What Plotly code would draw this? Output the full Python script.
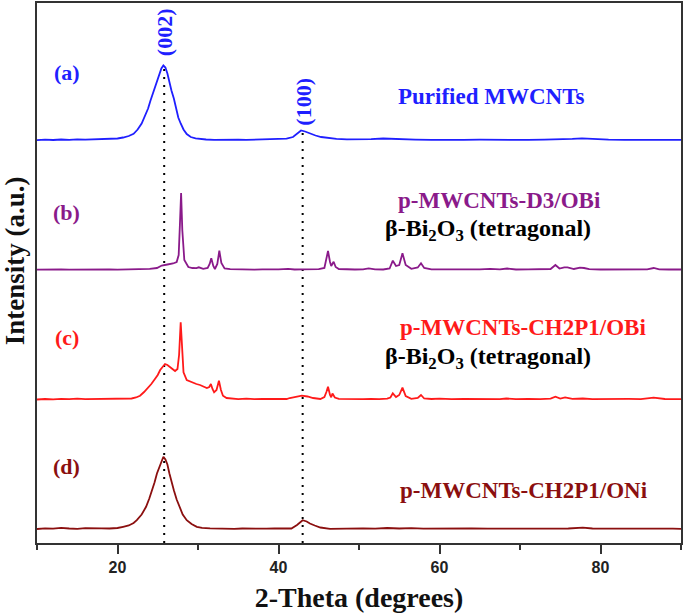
import plotly.graph_objects as go

# ---- data (2-theta in degrees, intensity in a.u. above each baseline) ----
x_a = [10, 11, 12, 13, 14, 15, 16, 17, 18, 19, 20, 20.7, 21.4, 22.0, 22.5, 23.0, 23.4, 23.8, 24.1, 24.45,
       24.8, 25.15, 25.45, 25.7, 25.95, 26.2, 26.45, 26.7, 27.0, 27.3, 27.55, 27.85, 28.2, 28.6, 29.1, 29.7,
       30.3, 31, 32, 33, 34, 35, 36, 37, 38, 39, 40, 41, 41.8, 42.3, 42.8, 43.3, 43.9, 44.6, 45.3, 46.2,
       47.2, 48.5, 50, 51.5, 53, 54, 55.5, 57, 59, 61, 63, 65, 67, 69, 71, 73, 75, 76.5, 77.7, 79, 81, 83,
       85, 87, 89, 90]
i_a = [0.3, 0.8, 0.5, 1.0, 0.6, 1.1, 0.8, 1.2, 1.0, 1.5, 2.0, 3.0, 4.5, 6.7, 11, 17, 24, 32, 40, 48,
       57, 66, 72, 75, 73, 67, 58, 50, 42, 32, 23, 17, 11, 6.5, 3.5, 2.2,
       1.5, 1.0, 0.7, 0.9, 0.5, 0.8, 0.6, 0.9, 0.7, 1.0, 1.2, 1.8, 3.5, 6.5, 10, 9, 7, 5, 3.5, 2.3,
       1.6, 1.2, 1.0, 1.3, 2.0, 1.6, 1.2, 0.9, 0.7, 1.0, 0.6, 0.8, 0.5, 0.7, 0.6, 0.8, 1.0, 1.6, 2.2, 1.5, 0.8, 0.6,
       0.8, 0.5, 0.7, 0.6]

x_b = [10, 11, 12, 13, 14, 15, 16, 17, 18, 19, 20, 21, 22, 23.2, 24, 24.9, 25.5, 26.2, 26.9, 27.35,
       27.6, 27.75, 27.9, 28.05, 28.3, 28.8, 29.3, 29.8, 30.1, 30.65, 31.2, 31.45, 31.65, 31.9, 32.1, 32.4,
       32.65, 32.9, 33.3, 34, 35, 36, 37, 38, 39, 40, 41.2, 42, 43, 44, 45, 45.7, 45.95, 46.15, 46.4, 46.55,
       46.85, 47.1, 47.5, 48.5, 49.5, 50.5, 51.2, 52, 53, 53.8, 54.2, 54.6, 55.0, 55.4, 55.8, 56.5, 57.3,
       57.7, 58.1, 59, 60, 61, 62, 63, 64, 65, 66.3, 67.5, 68.4, 69.5, 71, 72.5, 73.8, 74.4, 74.9, 75.5,
       75.9, 76.7, 77.45, 77.95, 78.6, 80, 81.5, 83, 84.3, 85.1, 85.8, 86.6, 87.3, 88.5, 90]
i_b = [0.3, 0.5, 0.4, 0.6, 0.3, 0.5, 0.4, 0.6, 0.5, 0.6, 0.4, 0.6, 0.5, 0.8, 1.2, 2.0, 4.5, 5.5, 6.5, 8,
       15, 45, 77, 40, 10, 3, 2, 1.8, 2.7, 1.2, 2, 6, 11.7, 4, 1, 6,
       19.3, 7, 1.5, 0.8, 0.5, 0.7, 0.4, 0.6, 0.5, 0.7, 1.2, 0.5, 0.7, 0.5, 0.8, 2, 10, 19, 8, 4,
       8.3, 3, 1, 0.6, 0.5, 0.7, 1.7, 0.6, 0.5, 1.5, 9.3, 4, 5, 16.7, 5, 1.2, 2.5,
       6.7, 2, 0.6, 0.5, 0.7, 0.4, 0.6, 0.5, 0.7, 1.2, 0.6, 1.5, 0.5, 0.6, 0.5, 1.0, 5, 1.5, 2.7,
       2.7, 1, 2.3, 2, 0.8, 0.5, 0.6, 0.5, 0.7, 1.3, 0.7, 2, 0.6, 0.5, 0.5]

x_c = [10, 11, 12, 13, 14, 15, 16, 17, 18, 19, 20, 20.8, 21.75, 22.3, 22.8, 23.3, 23.8, 24.2, 24.65, 25.0,
       25.3, 25.6, 25.9, 26.2, 26.5, 26.85, 27.15, 27.45, 27.65, 27.85, 28.0, 28.2, 28.6, 29.0, 29.4, 29.8,
       30.25, 30.7, 31.1, 31.4, 31.6, 31.8, 32.0, 32.3, 32.6, 32.85, 33.1, 33.55, 34.2, 35, 36, 37, 38, 39,
       40, 41, 41.4, 42.2, 42.9, 43.6, 44.3, 45.2, 45.7, 45.95, 46.15, 46.4, 46.55, 46.7, 47.0, 47.5, 48.5,
       49.5, 50.5, 51.5, 52.5, 53.5, 53.9, 54.2, 54.6, 55.0, 55.4, 55.8, 56.5, 57.3, 57.7, 58.1, 59, 60,
       61.5, 63, 64.5, 66, 67.5, 68.3, 69.5, 71, 72.5, 73.8, 74.4, 75.0, 75.6, 76.5, 77.8, 79, 80.5, 82,
       83.5, 85, 86.6, 88, 90]
i_c = [0.5, 1.0, 0.6, 1.2, 0.8, 1.3, 0.9, 1.1, 0.7, 1.2, 1.0, 1.3, 1.5, 2.5, 4.3, 8, 12, 16, 21, 25,
       30, 33, 36, 35, 33, 31, 29, 31, 45, 77.7, 50, 27.7, 20, 18.5, 17.3, 16,
       15, 13.5, 12, 13, 16, 11, 7.7, 10, 19.3, 10, 4.3, 2, 1.2, 0.9, 1.3, 0.8, 1.2, 0.9,
       1.3, 1.0, 2, 3, 4.3, 3.5, 2, 1, 3, 8, 13.3, 5, 2.7, 6.5, 2.5, 1.2, 1.0,
       1.3, 0.9, 1.2, 0.8, 1.3, 2.5, 6.7, 3, 5, 12.3, 4, 1.2, 2, 5, 1.5, 1.0, 1.3,
       0.8, 1.2, 0.9, 1.2, 0.8, 1.5, 0.9, 1.1, 0.8, 1.3, 3.3, 1.5, 2.7, 1.2, 1.5, 0.9, 1.2, 0.8,
       1.1, 0.9, 2.3, 1.0, 0.8]

x_d = [10, 11, 12, 13, 14, 15, 16, 17, 18, 19, 20, 20.7, 21.4, 22.0, 22.4, 23.0, 23.55, 23.95, 24.3, 24.6,
       24.9, 25.2, 25.45, 25.7, 25.95, 26.2, 26.45, 26.75, 27.0, 27.35, 27.7, 28.1, 28.6, 29.2, 29.85, 30.5,
       31.5, 32.5, 33.5, 34.5, 35.5, 36.5, 37.5, 38.5, 39.5, 40.5, 41.6, 42.3, 43.0, 43.5, 43.9, 44.5, 45.2,
       46.4, 47.5, 49, 50.5, 52, 53.5, 55, 56.5, 58, 60, 62, 64, 66, 68, 70, 72, 74, 76, 77.8, 79, 81, 83,
       85, 87, 89, 90]
i_d = [0.5, 1.2, 0.8, 1.6, 1.0, 0.7, 1.3, 0.9, 1.2, 1.0, 1.5, 2.7, 4, 6.5, 9.3, 15, 22.7, 31, 39.3, 47,
       56, 63, 69, 72.7, 70, 65, 56, 46, 39.3, 30, 22.7, 15, 9.3, 5.5, 2.7, 1.6,
       1.2, 0.8, 1.1, 0.7, 1.0, 0.8, 1.2, 0.9, 1.1, 0.8, 1.0, 4.5, 9.3, 8, 6, 4, 2,
       0.7, 1.0, 0.8, 1.2, 0.9, 1.5, 1.0, 1.3, 0.8, 1.1, 0.7, 1.0, 0.8, 0.9, 0.6, 0.9, 0.7, 1.0, 1.8, 1.0, 0.8, 1.0,
       0.7, 0.9, 0.8, 0.6]

peak_positions = [25.8, 43.0]
peak_labels = ["(002)", "(100)"]
x_ticks = [20, 40, 60, 80]

series = [
    dict(x=x_a, i=i_a, offset=402.5, color="#1f1fff", tag="(a)", name="Purified MWCNTs", extra=None),
    dict(x=x_b, i=i_b, offset=273.0, color="#8a1a8a", tag="(b)", name="p-MWCNTs-D3/OBi",
         extra="β-Bi<sub>2</sub>O<sub>3</sub> (tetragonal)"),
    dict(x=x_c, i=i_c, offset=143.0, color="#ff1a1a", tag="(c)", name="p-MWCNTs-CH2P1/OBi",
         extra="β-Bi<sub>2</sub>O<sub>3</sub> (tetragonal)"),
    dict(x=x_d, i=i_d, offset=13.5, color="#8b0f0f", tag="(d)", name="p-MWCNTs-CH2P1/ONi", extra=None),
]

fig = go.Figure()
for s in series:
    fig.add_trace(go.Scatter(x=s["x"], y=[v + s["offset"] for v in s["i"]], mode="lines",
                             line=dict(color=s["color"], width=1.8), name=s["name"], showlegend=False))

serif = "Liberation Serif"
# dotted reference lines
for px, top in zip(peak_positions, [474, 414]):
    fig.add_shape(type="line", x0=px, x1=px, y0=0, y1=top, xref="x", yref="y",
                  line=dict(color="black", width=2, dash="2px,6px"), layer="below")

# rotated peak labels
for px, lab, yy in zip(peak_positions, peak_labels, [511, 441]):
    fig.add_annotation(x=px, y=yy, text="<b>" + lab + "</b>", textangle=-90, showarrow=False,
                       font=dict(family=serif, size=22, color="#1f1fff"))

tag_y = [471, 331, 206, 77]
name_y = [447, 343, 216, 53]
extra_y = [None, 313, 185, None]
name_x = [54.6, 54.6, 54.8, 54.8]
for s, ty, ny, ey, nx in zip(series, tag_y, name_y, extra_y, name_x):
    fig.add_annotation(x=13.7, y=ty, text="<b>" + s["tag"] + "</b>", showarrow=False,
                       font=dict(family=serif, size=22, color=s["color"]))
    fig.add_annotation(x=nx, y=ny, text="<b>" + s["name"] + "</b>", showarrow=False, xanchor="left",
                       font=dict(family=serif, size=23, color=s["color"]))
    if s["extra"]:
        fig.add_annotation(x=53.0, y=ey, text="<b>" + s["extra"] + "</b>", showarrow=False, xanchor="left",
                           font=dict(family=serif, size=24, color="black"))

# y-axis title
fig.add_annotation(x=-0.034, y=0.522, xref="paper", yref="paper", xanchor="center", yanchor="middle",
                   text="<b>Intensity (a.u.)</b>", textangle=-90, showarrow=False,
                   font=dict(family=serif, size=27, color="#111"))

fig.update_layout(
    width=685, height=615,
    margin=dict(l=37, r=4, t=3, b=72, autoexpand=False),
    paper_bgcolor="white", plot_bgcolor="white",
    xaxis=dict(range=[10, 90], tickvals=x_ticks, ticks="outside", ticklen=9, tickwidth=2, tickcolor="#333",
               minor=dict(dtick=10, ticks="outside", ticklen=5, tickwidth=1.5, tickcolor="#333"),
               showline=True, linecolor="#333", linewidth=2, mirror=True, showgrid=False, zeroline=False,
               automargin=False, ticklabelstandoff=0,
               tickfont=dict(family="Liberation Sans", size=16, color="#222", weight="bold"),
               title=dict(text="<b>2-Theta (degrees)</b>", font=dict(family=serif, size=28, color="#111"),
                          standoff=12)),
    yaxis=dict(range=[0, 540], showticklabels=False, ticks="", showline=True, linecolor="#333", linewidth=2,
               mirror=True, showgrid=False, zeroline=False, automargin=False),
)

fig.write_html("out.html", config={"displayModeBar": False},
               post_script="document.body.style.margin='0';document.body.style.padding='0';")
